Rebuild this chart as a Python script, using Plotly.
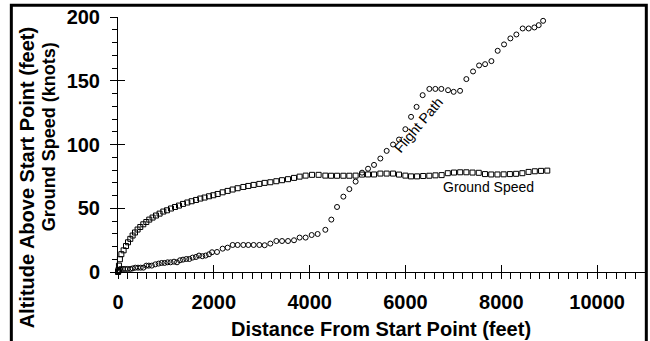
import plotly.graph_objects as go

# Ground speed (knots) vs distance (feet)
gs_dist = [0, 5, 10, 20, 40, 70, 117, 167, 209, 257, 305, 355, 409, 465, 528, 591, 653, 722, 793, 868,
           946, 1023, 1106, 1190, 1273, 1357, 1447, 1537, 1628, 1718, 1808, 1900, 1990, 2080, 2184, 2288,
           2393, 2497, 2616, 2720, 2831, 2950, 3061, 3180, 3305, 3424, 3549, 3674, 3791, 3916,
           4050, 4188, 4328, 4447, 4572, 4704, 4829, 4960, 5094, 5219, 5344, 5476, 5608, 5741, 5866, 5998,
           6117, 6242, 6370, 6498, 6626, 6755, 6884, 7013, 7142, 7271, 7400, 7530, 7660, 7790, 7920, 8050,
           8180, 8310, 8440, 8570, 8700, 8830, 8960]
gs_speed = [0, 0.5, 1.5, 5, 10, 14, 17, 20.4, 23.3, 26, 28.6, 31, 33.3, 35.3, 37.4, 39.2, 41.1, 42.7, 44.3, 45.8,
            47.4, 48.4, 49.8, 51, 52.1, 53.4, 54.5, 55.5, 56.5, 57.6, 58.4, 59.4, 60.2, 61.2, 62.5, 63.6,
            64.7, 65.7, 66.7, 67.5, 68.3, 69.1, 69.9, 70.4, 71.2, 72, 72.8, 73.8, 74.8, 75.6,
            76.2, 76.2, 75.6, 75.5, 75.5, 75.5, 75.5, 75.6, 76.4, 76.5, 76.5, 77.2, 77.2, 77.2, 76.4, 75.6,
            75.0, 75.0, 75.3, 75.5, 75.8, 76.0, 77.5, 78.0, 78.2, 78.2, 78.0, 77.8, 76.8, 76.5, 76.5, 76.6,
            76.8, 77.0, 77.5, 78.5, 79.0, 79.3, 79.5]

# Flight path: altitude (feet) vs distance (feet)
fp_dist = [0, 10, 20, 48, 104, 152, 200, 257, 305, 361, 418, 474, 530, 591, 643, 706,
           778, 848, 911, 973, 1036, 1098, 1169, 1232, 1294, 1357, 1426, 1489, 1558, 1628, 1691, 1760,
           1829, 1900, 1962, 2067, 2184, 2288, 2393, 2497, 2616, 2720, 2831, 2950, 3061, 3180, 3305, 3424,
           3549, 3674, 3791, 3916, 4042, 4167, 4328, 4453, 4572, 4704, 4829, 4960, 5094, 5219, 5344, 5476,
           5608, 5741, 5866, 5998, 6117, 6232, 6359, 6499, 6624, 6749, 6889, 7006, 7140, 7271, 7411, 7537,
           7662, 7794, 7925, 8058, 8190, 8315, 8447, 8572, 8691, 8781, 8873, 8990]
fp_alt = [0, 0.5, 1, 2.4, 2.4, 2.4, 2.4, 2.4, 2.8, 3.4, 3.4, 3.4, 3.4, 5, 5, 5,
          6.0, 6.6, 7.1, 7.1, 7.6, 7.6, 8.1, 7.6, 9.2, 9.7, 10.2, 10.2, 11.3, 11.8, 12.9, 12.4,
          12.9, 13.9, 15.5, 15.7, 18.3, 19.1, 21.2, 21.2, 21.2, 21.2, 21.2, 21.2, 21.0, 22.3, 24.3, 24.3,
          24.3, 24.9, 27, 27, 29, 29.8, 33.1, 41.1, 51.0, 59.1, 65.0, 70.9, 77.9, 81.0, 84.0, 89.0,
          95.0, 100.0, 103.9, 112.0, 121.7, 129.5, 138.7, 143.6, 143.6, 143.6, 142.6, 141.3, 142.1, 151.3, 157.3, 162,
          163, 165.4, 173.5, 178.5, 183.2, 186.3, 191, 191, 191.8, 193.6, 197, 201.5]

x_ticks = [0, 2000, 4000, 6000, 8000, 10000]
y_ticks = [0, 50, 100, 150, 200]

FONT = "Liberation Sans, Arial, sans-serif"

fig = go.Figure()
fig.add_trace(go.Scatter(x=fp_dist, y=fp_alt, mode="markers", name="Flight Path", cliponaxis=False,
                         marker=dict(symbol="circle-open", size=5, color="black", line=dict(width=1))))
fig.add_trace(go.Scatter(x=gs_dist, y=gs_speed, mode="markers", name="Ground Speed", cliponaxis=False,
                         marker=dict(symbol="square-open", size=5, color="black", line=dict(width=1))))
# invisible trace on overlay axes to carry the inward half of major ticks
fig.add_trace(go.Scatter(x=[None], y=[None], xaxis="x2", yaxis="y2", showlegend=False, hoverinfo="skip"))

ax_common = dict(showgrid=False, zeroline=False, color="black")
fig.update_layout(
    width=650, height=341,
    margin=dict(l=118, r=5, t=17, b=69),
    paper_bgcolor="white", plot_bgcolor="white",
    showlegend=False,
    font=dict(family=FONT, color="black"),
    xaxis=dict(range=[0, 11000], tickvals=x_ticks, ticktext=[str(v) for v in x_ticks],
               showline=True, linecolor="black", linewidth=1,
               ticks="outside", ticklen=6, tickwidth=1, tickcolor="black",
               minor=dict(dtick=200, ticks="outside", ticklen=6, tickwidth=1, tickcolor="black"),
               tickfont=dict(family=FONT, size=20, color="black", weight="bold"),
               ticklabelstandoff=6, automargin=False, ticklabeloverflow="allow", **ax_common),
    yaxis=dict(range=[0, 200], tickvals=y_ticks, ticktext=[str(v) for v in y_ticks],
               showline=True, linecolor="black", linewidth=1,
               ticks="outside", ticklen=7, tickwidth=1, tickcolor="black",
               minor=dict(dtick=10, ticks="outside", ticklen=5, tickwidth=1, tickcolor="black"),
               tickfont=dict(family=FONT, size=20, color="black", weight="bold"),
               ticklabelstandoff=6, automargin=False, ticklabeloverflow="allow", **ax_common),
    xaxis2=dict(range=[0, 11000], overlaying="x", anchor="y", side="bottom", tickvals=x_ticks,
                ticks="inside", ticklen=7, tickwidth=1, tickcolor="black", showticklabels=False,
                showline=False, **ax_common),
    yaxis2=dict(range=[0, 200], overlaying="y", anchor="x", side="left", tickvals=y_ticks,
                ticks="inside", ticklen=7, tickwidth=1, tickcolor="black", showticklabels=False,
                showline=False, **ax_common),
)

# outer frame (its bottom edge lies just past the bottom of the picture, as in the reference)
fig.add_shape(type="rect", xref="paper", yref="paper", x0=-0.2024, x1=1.0025, y0=-0.2780, y1=1.0459,
              line=dict(color="black", width=3), fillcolor="rgba(0,0,0,0)", layer="above")

annots = [
    dict(text="Altitude Above Start Point (feet)", x=-0.1726, y=0.3675, textangle=-90, size=20, bold=True),
    dict(text="Ground Speed (knots)", x=-0.1303, y=0.5300, textangle=-90, size=18, bold=True),
    dict(text="Distance From Start Point (feet)", x=0.4993, y=-0.2247, textangle=0, size=20, bold=True),
]
for a in annots:
    fig.add_annotation(text=a["text"], xref="paper", yref="paper", x=a["x"], y=a["y"],
                       xanchor="center", yanchor="middle", textangle=a["textangle"], showarrow=False,
                       font=dict(family=FONT, size=a["size"], color="black",
                                 weight="bold" if a["bold"] else "normal"))

fig.add_annotation(text="Ground Speed", x=7731, y=66.5, xref="x", yref="y", showarrow=False,
                   xanchor="center", yanchor="middle", font=dict(family=FONT, size=14, color="black"))
fig.add_annotation(text="Flight Path", x=6269, y=115.2, xref="x", yref="y", showarrow=False,
                   xanchor="center", yanchor="middle", textangle=-50,
                   font=dict(family=FONT, size=14, color="black"))

# remove the browser's default 8px body margin so the figure sits at the page origin
fig.write_html("out.html", config={"displayModeBar": False},
               post_script="document.body.style.margin='0px';")
